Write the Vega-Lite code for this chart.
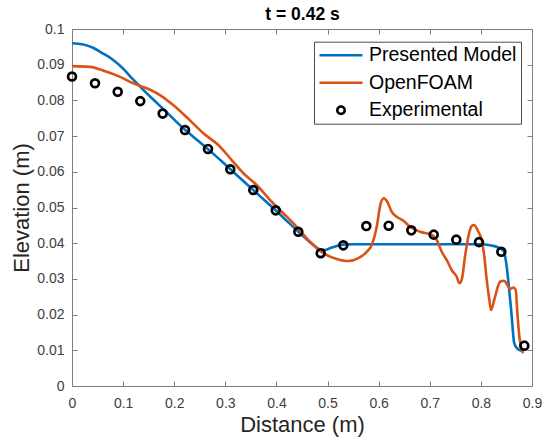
{
 "$schema": "https://vega.github.io/schema/vega-lite/v6.json",
 "width": 460,
 "height": 357,
 "autosize": {"type": "none"},
 "padding": {"left": 72, "top": 29, "right": 12, "bottom": 57},
 "background": "white",
 "config": {"view": {"stroke": null}, "font": "Liberation Sans"},
 "datasets": {
  "model": [
   {"series": "Presented Model", "x": 0, "y": 0.0960},
   {"series": "Presented Model", "x": 0.02, "y": 0.0957},
   {"series": "Presented Model", "x": 0.04, "y": 0.0948},
   {"series": "Presented Model", "x": 0.06, "y": 0.0932},
   {"series": "Presented Model", "x": 0.08, "y": 0.0914},
   {"series": "Presented Model", "x": 0.10, "y": 0.0889},
   {"series": "Presented Model", "x": 0.12, "y": 0.0858},
   {"series": "Presented Model", "x": 0.14, "y": 0.0829},
   {"series": "Presented Model", "x": 0.16, "y": 0.0801},
   {"series": "Presented Model", "x": 0.18, "y": 0.0774},
   {"series": "Presented Model", "x": 0.20, "y": 0.0746},
   {"series": "Presented Model", "x": 0.22, "y": 0.0719},
   {"series": "Presented Model", "x": 0.24, "y": 0.0695},
   {"series": "Presented Model", "x": 0.26, "y": 0.0671},
   {"series": "Presented Model", "x": 0.28, "y": 0.0646},
   {"series": "Presented Model", "x": 0.30, "y": 0.0620},
   {"series": "Presented Model", "x": 0.32, "y": 0.0594},
   {"series": "Presented Model", "x": 0.34, "y": 0.0568},
   {"series": "Presented Model", "x": 0.36, "y": 0.0542},
   {"series": "Presented Model", "x": 0.38, "y": 0.0516},
   {"series": "Presented Model", "x": 0.40, "y": 0.0490},
   {"series": "Presented Model", "x": 0.42, "y": 0.0463},
   {"series": "Presented Model", "x": 0.44, "y": 0.0436},
   {"series": "Presented Model", "x": 0.46, "y": 0.0410},
   {"series": "Presented Model", "x": 0.475, "y": 0.0392},
   {"series": "Presented Model", "x": 0.485, "y": 0.0383},
   {"series": "Presented Model", "x": 0.495, "y": 0.0381},
   {"series": "Presented Model", "x": 0.505, "y": 0.0386},
   {"series": "Presented Model", "x": 0.515, "y": 0.0391},
   {"series": "Presented Model", "x": 0.53, "y": 0.0396},
   {"series": "Presented Model", "x": 0.55, "y": 0.0397},
   {"series": "Presented Model", "x": 0.65, "y": 0.0397},
   {"series": "Presented Model", "x": 0.75, "y": 0.0397},
   {"series": "Presented Model", "x": 0.80, "y": 0.0397},
   {"series": "Presented Model", "x": 0.818, "y": 0.0394},
   {"series": "Presented Model", "x": 0.834, "y": 0.0388},
   {"series": "Presented Model", "x": 0.845, "y": 0.0377},
   {"series": "Presented Model", "x": 0.850, "y": 0.0340},
   {"series": "Presented Model", "x": 0.855, "y": 0.0275},
   {"series": "Presented Model", "x": 0.860, "y": 0.0200},
   {"series": "Presented Model", "x": 0.865, "y": 0.0122},
   {"series": "Presented Model", "x": 0.870, "y": 0.0107},
   {"series": "Presented Model", "x": 0.875, "y": 0.0101},
   {"series": "Presented Model", "x": 0.882, "y": 0.0098}
  ],
  "foam": [
   {"series": "OpenFOAM", "x": 0, "y": 0.0896},
   {"series": "OpenFOAM", "x": 0.035, "y": 0.0894},
   {"series": "OpenFOAM", "x": 0.068, "y": 0.0880},
   {"series": "OpenFOAM", "x": 0.094, "y": 0.0866},
   {"series": "OpenFOAM", "x": 0.120, "y": 0.0848},
   {"series": "OpenFOAM", "x": 0.146, "y": 0.0834},
   {"series": "OpenFOAM", "x": 0.172, "y": 0.0815},
   {"series": "OpenFOAM", "x": 0.198, "y": 0.0787},
   {"series": "OpenFOAM", "x": 0.225, "y": 0.0752},
   {"series": "OpenFOAM", "x": 0.2569, "y": 0.0708},
   {"series": "OpenFOAM", "x": 0.2863, "y": 0.0675},
   {"series": "OpenFOAM", "x": 0.3124, "y": 0.0633},
   {"series": "OpenFOAM", "x": 0.3352, "y": 0.0596},
   {"series": "OpenFOAM", "x": 0.3613, "y": 0.0563},
   {"series": "OpenFOAM", "x": 0.3874, "y": 0.0521},
   {"series": "OpenFOAM", "x": 0.4135, "y": 0.0484},
   {"series": "OpenFOAM", "x": 0.4396, "y": 0.0446},
   {"series": "OpenFOAM", "x": 0.4657, "y": 0.0404},
   {"series": "OpenFOAM", "x": 0.4917, "y": 0.0372},
   {"series": "OpenFOAM", "x": 0.5179, "y": 0.0356},
   {"series": "OpenFOAM", "x": 0.5407, "y": 0.0350},
   {"series": "OpenFOAM", "x": 0.5603, "y": 0.0358},
   {"series": "OpenFOAM", "x": 0.5766, "y": 0.0376},
   {"series": "OpenFOAM", "x": 0.5864, "y": 0.0395},
   {"series": "OpenFOAM", "x": 0.5962, "y": 0.0446},
   {"series": "OpenFOAM", "x": 0.6040, "y": 0.0512},
   {"series": "OpenFOAM", "x": 0.6105, "y": 0.0526},
   {"series": "OpenFOAM", "x": 0.6169, "y": 0.0516},
   {"series": "OpenFOAM", "x": 0.6255, "y": 0.0488},
   {"series": "OpenFOAM", "x": 0.6353, "y": 0.0474},
   {"series": "OpenFOAM", "x": 0.6483, "y": 0.0463},
   {"series": "OpenFOAM", "x": 0.6613, "y": 0.0446},
   {"series": "OpenFOAM", "x": 0.6809, "y": 0.0432},
   {"series": "OpenFOAM", "x": 0.7038, "y": 0.0423},
   {"series": "OpenFOAM", "x": 0.7136, "y": 0.0409},
   {"series": "OpenFOAM", "x": 0.7234, "y": 0.0376},
   {"series": "OpenFOAM", "x": 0.7331, "y": 0.0353},
   {"series": "OpenFOAM", "x": 0.7429, "y": 0.0325},
   {"series": "OpenFOAM", "x": 0.7527, "y": 0.0306},
   {"series": "OpenFOAM", "x": 0.7579, "y": 0.0288},
   {"series": "OpenFOAM", "x": 0.7624, "y": 0.0297},
   {"series": "OpenFOAM", "x": 0.7689, "y": 0.0362},
   {"series": "OpenFOAM", "x": 0.7754, "y": 0.0418},
   {"series": "OpenFOAM", "x": 0.7820, "y": 0.0448},
   {"series": "OpenFOAM", "x": 0.7865, "y": 0.0451},
   {"series": "OpenFOAM", "x": 0.7950, "y": 0.0432},
   {"series": "OpenFOAM", "x": 0.8016, "y": 0.0409},
   {"series": "OpenFOAM", "x": 0.8068, "y": 0.0362},
   {"series": "OpenFOAM", "x": 0.8114, "y": 0.0297},
   {"series": "OpenFOAM", "x": 0.8166, "y": 0.0241},
   {"series": "OpenFOAM", "x": 0.8198, "y": 0.0213},
   {"series": "OpenFOAM", "x": 0.8277, "y": 0.0250},
   {"series": "OpenFOAM", "x": 0.8374, "y": 0.0292},
   {"series": "OpenFOAM", "x": 0.8452, "y": 0.0295},
   {"series": "OpenFOAM", "x": 0.8518, "y": 0.0283},
   {"series": "OpenFOAM", "x": 0.8570, "y": 0.0271},
   {"series": "OpenFOAM", "x": 0.8635, "y": 0.0276},
   {"series": "OpenFOAM", "x": 0.8681, "y": 0.0269},
   {"series": "OpenFOAM", "x": 0.8714, "y": 0.0204},
   {"series": "OpenFOAM", "x": 0.8753, "y": 0.0138},
   {"series": "OpenFOAM", "x": 0.8799, "y": 0.0101},
   {"series": "OpenFOAM", "x": 0.8831, "y": 0.0092}
  ],
  "exp": [
   {"series": "Experimental", "x": 0, "y": 0.0867},
   {"series": "Experimental", "x": 0.0450, "y": 0.0848},
   {"series": "Experimental", "x": 0.0894, "y": 0.0824},
   {"series": "Experimental", "x": 0.1336, "y": 0.0798},
   {"series": "Experimental", "x": 0.1774, "y": 0.0763},
   {"series": "Experimental", "x": 0.2211, "y": 0.0717},
   {"series": "Experimental", "x": 0.2661, "y": 0.0664},
   {"series": "Experimental", "x": 0.3097, "y": 0.0607},
   {"series": "Experimental", "x": 0.3547, "y": 0.0549},
   {"series": "Experimental", "x": 0.3986, "y": 0.0492},
   {"series": "Experimental", "x": 0.4428, "y": 0.0432},
   {"series": "Experimental", "x": 0.4866, "y": 0.0372},
   {"series": "Experimental", "x": 0.5308, "y": 0.0394},
   {"series": "Experimental", "x": 0.5758, "y": 0.0448},
   {"series": "Experimental", "x": 0.6196, "y": 0.0449},
   {"series": "Experimental", "x": 0.6639, "y": 0.0436},
   {"series": "Experimental", "x": 0.7077, "y": 0.0424},
   {"series": "Experimental", "x": 0.7519, "y": 0.0410},
   {"series": "Experimental", "x": 0.7963, "y": 0.0403},
   {"series": "Experimental", "x": 0.8400, "y": 0.0376},
   {"series": "Experimental", "x": 0.8850, "y": 0.0113}
  ]
 },
 "resolve": {"axis": {"x": "independent", "y": "independent"}},
 "layer": [
  {
   "data": {"name": "model"},
   "mark": {"type": "line", "strokeWidth": 2.6, "interpolate": "monotone"},
   "encoding": {
    "x": {"field": "x", "type": "quantitative", "scale": {"domain": [0, 0.9], "nice": false, "zero": false},
     "axis": {"orient": "bottom", "values": [0, 0.1, 0.2, 0.3, 0.4, 0.5, 0.6, 0.7, 0.8, 0.9], "format": "~g", "grid": false,
      "labelFontSize": 14, "labelColor": "#404040", "labelFont": "Liberation Sans", "labelFlush": false, "labelOverlap": false,
      "tickSize": -5, "labelPadding": 15, "domainColor": "#808080", "tickColor": "#808080", "domainWidth": 1, "tickWidth": 1,
      "title": "Distance (m)", "titleFontSize": 22, "titleFontWeight": "normal", "titleColor": "#262626", "titleFont": "Liberation Sans", "titlePadding": 4}},
    "y": {"field": "y", "type": "quantitative", "scale": {"domain": [0, 0.1], "nice": false},
     "axis": {"orient": "left", "values": [0, 0.01, 0.02, 0.03, 0.04, 0.05, 0.06, 0.07, 0.08, 0.09, 0.1], "format": "~g", "grid": false,
      "labelFontSize": 14, "labelColor": "#404040", "labelFont": "Liberation Sans", "labelFlush": false, "labelOverlap": false,
      "tickSize": -5, "labelPadding": 13, "domainColor": "#808080", "tickColor": "#808080", "domainWidth": 1, "tickWidth": 1,
      "title": "Elevation (m)", "titleFontSize": 22, "titleFontWeight": "normal", "titleColor": "#262626", "titleFont": "Liberation Sans", "titlePadding": 3}},
    "color": {"field": "series", "type": "nominal",
     "scale": {"domain": ["Presented Model", "OpenFOAM", "Experimental"], "range": ["#0072BD", "#D95319", "#000000"]},
     "legend": {"title": null, "orient": "none", "legendX": 242, "legendY": 12.7, "direction": "vertical",
      "labelFontSize": 19.5, "labelColor": "#000000", "labelFont": "Liberation Sans", "labelOffset": 5, "labelLimit": 300,
      "symbolSize": 1849, "symbolStrokeWidth": 2.6, "symbolType": "stroke", "clipHeight": 19, "rowPadding": 7.5, "padding": 4,
      "strokeColor": "#4d4d4d", "fillColor": "white",
      "encode": {"symbols": {"update": {
       "shape": {"signal": "datum.value === 'Experimental' ? 'circle' : 'stroke'"},
       "size": {"signal": "datum.value === 'Experimental' ? 55 : 1849"},
       "fill": {"value": "transparent"},
       "strokeWidth": {"value": 2.6}}}}}}
   }
  },
  {
   "data": {"name": "foam"},
   "mark": {"type": "line", "strokeWidth": 2.6, "interpolate": "monotone"},
   "encoding": {
    "x": {"field": "x", "type": "quantitative", "axis": null},
    "y": {"field": "y", "type": "quantitative", "axis": null},
    "color": {"field": "series", "type": "nominal"}
   }
  },
  {
   "data": {"name": "exp"},
   "mark": {"type": "point", "shape": "circle", "filled": false, "size": 62, "strokeWidth": 2.7, "opacity": 1},
   "encoding": {
    "x": {"field": "x", "type": "quantitative",
     "axis": {"orient": "top", "values": [0, 0.1, 0.2, 0.3, 0.4, 0.5, 0.6, 0.7, 0.8, 0.9], "labels": false, "grid": false,
      "tickSize": -5, "domainColor": "#808080", "tickColor": "#808080", "domainWidth": 1, "tickWidth": 1,
      "title": "t = 0.42 s", "titleFontSize": 17.5, "titleFontWeight": "bold", "titleColor": "#000000", "titleFont": "Liberation Sans", "titlePadding": 5}},
    "y": {"field": "y", "type": "quantitative",
     "axis": {"orient": "right", "values": [0, 0.01, 0.02, 0.03, 0.04, 0.05, 0.06, 0.07, 0.08, 0.09, 0.1], "labels": false, "title": null, "grid": false,
      "tickSize": -5, "domainColor": "#808080", "tickColor": "#808080", "domainWidth": 1, "tickWidth": 1}},
    "color": {"field": "series", "type": "nominal"}
   }
  }
 ]
}
